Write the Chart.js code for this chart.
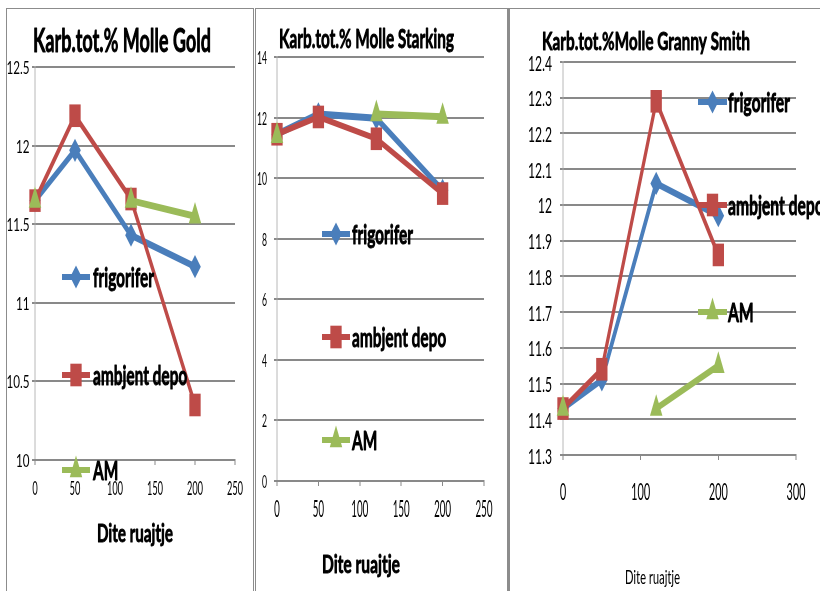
<!DOCTYPE html>
<html>
<head>
<meta charset="utf-8">
<title>Karb.tot.% Molle</title>
<script src="https://cdn.jsdelivr.net/npm/chart.js@4.4.1/dist/chart.umd.min.js"></script>
<style>
  html, body { margin: 0; padding: 0; background: #fff; }
  body { width: 820px; height: 591px; position: relative; overflow: hidden; }
  .frame { position: absolute; box-sizing: border-box; border: 1px solid #8c8c8c; }
  canvas.panel { position: absolute; }
  /* each chart is drawn at half height and shown twice as tall */
  #c1 { left: 7px;   top: 9px; width: 246px !important; height: 582px !important; }
  #c2 { left: 256px; top: 9px; width: 251px !important; height: 582px !important; }
  #c3 { left: 510px; top: 9px; width: 310px !important; height: 582px !important; }
</style>
</head>
<body>
<div class="frame" style="left:6px;top:8px;width:248px;height:600px"></div>
<div class="frame" style="left:255px;top:8px;width:253px;height:600px"></div>
<div class="frame" style="left:508px;top:8px;width:320px;height:600px;border-left-width:2px"></div>
<canvas id="c1" class="panel" width="246" height="291"></canvas>
<canvas id="c2" class="panel" width="251" height="291"></canvas>
<canvas id="c3" class="panel" width="310" height="291"></canvas>
<script>
// ---------- data ----------
const days = [0, 50, 120, 200];
const seriesNames = ['frigorifer', 'ambjent depo', 'AM'];
const titles = ['Karb.tot.% Molle Gold', 'Karb.tot.% Molle Starking', 'Karb.tot.%Molle Granny Smith'];
const xAxisTitle = 'Dite ruajtje';

const goldFrigorifer = [11.65, 11.97, 11.43, 11.23];
const goldAmbjent    = [11.65, 12.19, 11.66, 10.35];
const goldAM         = [11.65, null, 11.65, 11.55];

const starkingFrigorifer = [11.45, 12.12, 11.98, 9.6];
const starkingAmbjent    = [11.45, 12.02, 11.3, 9.49];
const starkingAM         = [11.4, null, 12.12, 12.03];

const grannyFrigorifer = [11.43, 11.51, 12.06, 11.97];
const grannyAmbjent    = [11.43, 11.54, 12.29, 11.86];
const grannyAM         = [11.43, null, 11.43, 11.55];

const goldYTicks     = [10, 10.5, 11, 11.5, 12, 12.5];
const goldXTicks     = [0, 50, 100, 150, 200, 250];
const starkingYTicks = [0, 2, 4, 6, 8, 10, 12, 14];
const starkingXTicks = [0, 50, 100, 150, 200, 250];
const grannyYTicks   = [11.3, 11.4, 11.5, 11.6, 11.7, 11.8, 11.9, 12, 12.1, 12.2, 12.3, 12.4];
const grannyXTicks   = [0, 100, 200, 300];

// ---------- styling ----------
const SY = 2;                      // vertical stretch of every panel
const COLORS = ['#4A7EBB', '#BE4B48', '#9BBB59'];
const SHAPES = ['rectRot', 'rect', 'triangle'];
const RADII  = [5.8, 8, 7.2];
const WIDTHS = [3.5, 3.1, 3.5];
const GRID = '#898989';

// page positions of each panel's pieces
const layouts = [
  { id: 'c1', canvas: {x: 7, y: 9, w: 246, h: 582}, area: {l: 35, r: 235, t: 67, b: 460},
    yRange: [10, 12.5], xRange: [0, 250], yTicks: goldYTicks, xTicks: goldXTicks,
    series: [goldFrigorifer, goldAmbjent, goldAM], title: titles[0],
    titleBox: {x: 33, base: 52, cap: 24, w: 178, weight: 'bold'},
    xTitleBox: {x: 97, base: 541.5, cap: 18, w: 76, weight: 'bold'},
    yLab: {right: 29.5, cap: 12, ref: '12.5', refW: 23},
    xLab: {mid: 488, cap: 14, ref: '250', refW: 16},
    legend: {x0: 62, x1: 90, rows: [277, 375, 470], tx: 93, cap: 18.5, refW: 61} },
  { id: 'c2', canvas: {x: 256, y: 9, w: 251, h: 582}, area: {l: 277, r: 484, t: 57, b: 481},
    yRange: [0, 14], xRange: [0, 250], yTicks: starkingYTicks, xTicks: starkingXTicks,
    series: [starkingFrigorifer, starkingAmbjent, starkingAM], title: titles[1],
    titleBox: {x: 279, base: 47.5, cap: 19.5, w: 175, weight: 'bold'},
    xTitleBox: {x: 322, base: 573, cap: 18, w: 78, weight: 'bold'},
    yLab: {right: 267, cap: 12, ref: '14', refW: 10},
    xLab: {mid: 508, cap: 17, ref: '250', refW: 17},
    legend: {x0: 322, x1: 350, rows: [234, 337, 440], tx: 352, cap: 18.5, refW: 61} },
  { id: 'c3', canvas: {x: 510, y: 9, w: 310, h: 582}, area: {l: 563, r: 796, t: 62, b: 455},
    yRange: [11.3, 12.4], xRange: [0, 300], yTicks: grannyYTicks, xTicks: grannyXTicks,
    series: [grannyFrigorifer, grannyAmbjent, grannyAM], title: titles[2],
    titleBox: {x: 542, base: 50, cap: 18, w: 208, weight: 'bold'},
    xTitleBox: {x: 625, base: 583.5, cap: 13.5, w: 55, weight: 'normal'},
    yLab: {right: 552, cap: 15, ref: '12.4', refW: 24},
    xLab: {mid: 491, cap: 17, ref: '100', refW: 19},
    legend: {x0: 698, x1: 727, rows: [102, 205, 312], tx: 728, cap: 18.5, refW: 62} }
];

// ---------- text helpers (page coordinates) ----------
function fontFor(cap, weight) {
  return weight + ' ' + (cap / SY / 0.72).toFixed(2) + 'px Lato, "Liberation Sans", sans-serif';
}
function textScale(ctx, s, cap, weight, width) {
  ctx.save();
  ctx.font = fontFor(cap, weight);
  const m = ctx.measureText(s).width;
  ctx.restore();
  return width / m;
}
function drawText(ctx, L, s, x, base, cap, weight, sx, align) {
  ctx.save();
  ctx.font = fontFor(cap, weight);
  ctx.textAlign = 'left';
  ctx.textBaseline = 'alphabetic';
  const w = ctx.measureText(s).width * sx;
  let lx = x - L.canvas.x;
  if (align === 'right') lx -= w;
  else if (align === 'center') lx -= w / 2;
  ctx.translate(lx, (base - L.canvas.y) / SY);
  ctx.scale(sx, 1);
  ctx.fillStyle = '#000';
  ctx.fillText(s, 0, 0);
  if (weight === 'bold') {
    // heavier strokes for the bold headings
    ctx.strokeStyle = '#000';
    ctx.lineWidth = 0.45;
    ctx.lineJoin = 'round';
    ctx.strokeText(s, 0, 0);
  }
  ctx.restore();
}
function drawMarker(ctx, i, x, y) {
  const r = RADII[i];
  ctx.beginPath();
  if (SHAPES[i] === 'rectRot') {
    ctx.moveTo(x, y - r); ctx.lineTo(x + r, y); ctx.lineTo(x, y + r); ctx.lineTo(x - r, y);
  } else if (SHAPES[i] === 'rect') {
    const s = r * Math.SQRT1_2;
    ctx.rect(x - s, y - s, 2 * s, 2 * s);
  } else {
    ctx.moveTo(x, y - r); ctx.lineTo(x + r * 0.866, y + r / 2); ctx.lineTo(x - r * 0.866, y + r / 2);
  }
  ctx.closePath();
  ctx.fillStyle = COLORS[i];
  ctx.fill();
}

// titles, tick labels and legend of one panel
function panelText(L) {
  return {
    id: 'panelText',
    afterDraw(chart) {
      const ctx = chart.ctx;
      const xs = chart.scales.x, ys = chart.scales.y;
      const T = L.titleBox, X = L.xTitleBox;
      drawText(ctx, L, L.title, T.x, T.base, T.cap, T.weight,
               textScale(ctx, L.title, T.cap, T.weight, T.w), 'left');
      drawText(ctx, L, xAxisTitle, X.x, X.base, X.cap, X.weight,
               textScale(ctx, xAxisTitle, X.cap, X.weight, X.w), 'left');

      const sy = textScale(ctx, L.yLab.ref, L.yLab.cap, 'normal', L.yLab.refW);
      L.yTicks.forEach(v => {
        const py = ys.getPixelForValue(v) * SY + L.canvas.y;
        drawText(ctx, L, String(v), L.yLab.right, py + L.yLab.cap / 2 + 1, L.yLab.cap, 'normal', sy, 'right');
      });
      const sx = textScale(ctx, L.xLab.ref, L.xLab.cap, 'normal', L.xLab.refW);
      L.xTicks.forEach(v => {
        const px = xs.getPixelForValue(v) + L.canvas.x;
        drawText(ctx, L, String(v), px, L.xLab.mid + L.xLab.cap / 2, L.xLab.cap, 'normal', sx, 'center');
      });

      const G = L.legend;
      const sl = textScale(ctx, seriesNames[0], G.cap, 'bold', G.refW);
      seriesNames.forEach((name, i) => {
        const y = (G.rows[i] - L.canvas.y) / SY;
        const x0 = G.x0 - L.canvas.x, x1 = G.x1 - L.canvas.x;
        ctx.save();
        ctx.strokeStyle = COLORS[i];
        ctx.lineWidth = 3;
        ctx.beginPath(); ctx.moveTo(x0, y); ctx.lineTo(x1, y); ctx.stroke();
        drawMarker(ctx, i, (x0 + x1) / 2, y);
        ctx.restore();
        drawText(ctx, L, name, G.tx, G.rows[i] + 9.5, G.cap, 'bold', sl, 'left');
      });
    }
  };
}

layouts.forEach(L => {
  const W = L.canvas.w, H = L.canvas.h / SY;
  const YW = 3, XH = 2.5;
  const padding = {
    left: L.area.l - L.canvas.x - YW,
    right: L.canvas.x + W - L.area.r,
    top: (L.area.t - L.canvas.y) / SY,
    bottom: H - (L.area.b - L.canvas.y) / SY - XH
  };
  const datasets = L.series.map((vals, i) => ({
    label: seriesNames[i],
    data: days.map((d, k) => ({x: d, y: vals[k]})),
    borderColor: COLORS[i],
    backgroundColor: COLORS[i],
    borderWidth: WIDTHS[i],
    pointStyle: SHAPES[i],
    pointRadius: RADII[i],
    pointBorderWidth: 0,
    pointBackgroundColor: COLORS[i],
    tension: 0,
    spanGaps: false,
    clip: false,
    order: 2 - i
  }));
  new Chart(document.getElementById(L.id), {
    type: 'line',
    data: {datasets},
    options: {
      responsive: false,
      animation: false,
      devicePixelRatio: SY,
      layout: {padding},
      events: [],
      plugins: {legend: {display: false}, title: {display: false}, tooltip: {enabled: false}},
      scales: {
        x: {
          type: 'linear', min: L.xRange[0], max: L.xRange[1],
          afterBuildTicks: s => { s.ticks = L.xTicks.map(v => ({value: v})); },
          afterFit: s => { s.height = XH; },
          ticks: {display: false},
          grid: {drawOnChartArea: false, drawTicks: true, tickLength: XH, color: GRID, lineWidth: 1},
          border: {display: true, color: GRID, width: 1}
        },
        y: {
          type: 'linear', min: L.yRange[0], max: L.yRange[1],
          afterBuildTicks: s => { s.ticks = L.yTicks.map(v => ({value: v})); },
          afterFit: s => { s.width = YW; },
          ticks: {display: false},
          grid: {drawTicks: true, tickLength: YW, color: GRID, lineWidth: 1},
          border: {display: true, color: GRID, width: 0.6}
        }
      }
    },
    plugins: [panelText(L)]
  });
});
</script>
</body>
</html>
